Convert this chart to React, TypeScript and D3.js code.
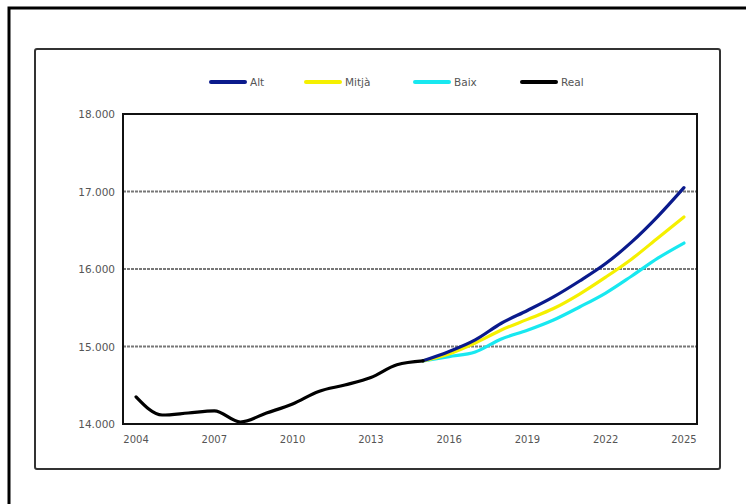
import React from 'react';
import * as d3 from 'd3';

const years = d3.range(2004, 2026).map(String);
const tickYears = ['2004', '2007', '2010', '2013', '2016', '2019', '2022', '2025'];
const yTicks = [14000, 15000, 16000, 17000, 18000];
const gridValues = [15000, 16000, 17000];

const projYears = ['2015', '2016', '2017', '2018', '2019', '2020', '2021', '2022', '2023', '2024', '2025'];
const realYears = ['2004', '2005', '2006', '2007', '2008', '2009', '2010', '2011', '2012', '2013', '2014', '2015'];

const realValues = [14350, 14116, 14142, 14170, 14026, 14142, 14258, 14420, 14503, 14600, 14765, 14815];
const altValues = [14815, 14935, 15085, 15300, 15465, 15640, 15845, 16070, 16350, 16680, 17050];
const mitjaValues = [14815, 14905, 15045, 15213, 15350, 15490, 15677, 15895, 16130, 16400, 16671];
const baixValues = [14815, 14870, 14929, 15097, 15210, 15342, 15510, 15690, 15910, 16140, 16335];

const seriesNames = ['Alt', 'Mitjà', 'Baix', 'Real'];
const seriesColors = ['#0a1a8c', '#f5f000', '#18e8f0', '#000000'];

const W = 746;
const H = 504;
const plot = { left: 123, right: 697, top: 114, bottom: 424 };
const fontFamily = 'Verdana, "DejaVu Sans", sans-serif';

const App: React.FC = () => {
  const x = d3.scaleBand<string>().domain(years).range([plot.left, plot.right]);
  const y = d3.scaleLinear().domain([14000, 18000]).range([plot.bottom, plot.top]);
  const cx = (yr: string) => (x(yr) ?? 0) + x.bandwidth() / 2;

  const line = d3.line<[string, number]>()
    .x(d => cx(d[0]))
    .y(d => y(d[1]))
    .curve(d3.curveMonotoneX);

  const series = [
    { name: 'Baix', pts: projYears.map((yr, i) => [yr, baixValues[i]] as [string, number]) },
    { name: 'Mitjà', pts: projYears.map((yr, i) => [yr, mitjaValues[i]] as [string, number]) },
    { name: 'Alt', pts: projYears.map((yr, i) => [yr, altValues[i]] as [string, number]) },
    { name: 'Real', pts: realYears.map((yr, i) => [yr, realValues[i]] as [string, number]) },
  ];
  const color = (n: string) => seriesColors[seriesNames.indexOf(n)];

  const legendX = [211, 306, 415, 522];

  return (
    <svg width={W} height={H} style={{ position: 'absolute', left: 0, top: 0, display: 'block' }}>
      <rect x={0} y={0} width={W} height={H} fill="#fff" />
      {/* outer frame */}
      <rect x={9} y={8} width={W + 10} height={H + 10} fill="none" stroke="#000" strokeWidth={3} />
      {/* inner frame */}
      <rect x={35} y={49} width={685} height={420} rx={2} fill="none" stroke="#333" strokeWidth={2} />

      {/* legend */}
      {seriesNames.map((n, i) => (
        <g key={n}>
          <line x1={legendX[i]} x2={legendX[i] + 34} y1={82} y2={82} stroke={seriesColors[i]} strokeWidth={4} strokeLinecap="round" />
          <text x={legendX[i] + 39} y={86} fontSize={10.5} fontFamily={fontFamily} fill="#555">{n}</text>
        </g>
      ))}

      {/* gridlines */}
      {gridValues.map(v => (
        <line key={v} x1={plot.left} x2={plot.right} y1={y(v)} y2={y(v)} stroke="#777" strokeWidth={2} strokeDasharray="3,1" />
      ))}

      {/* y labels */}
      {yTicks.map(v => (
        <text key={v} x={115} y={y(v) + 4} textAnchor="end" fontSize={10.5} fontFamily={fontFamily} fill="#555">
          {d3.format(',')(v).replace(',', '.')}
        </text>
      ))}

      {/* x labels */}
      {tickYears.map(t => (
        <text key={t} x={cx(t)} y={443} textAnchor="middle" fontSize={10} fontFamily={fontFamily} fill="#555">{t}</text>
      ))}

      {/* series */}
      {series.map(s => (
        <path key={s.name} d={line(s.pts) ?? ''} fill="none" stroke={color(s.name)} strokeWidth={3.2} strokeLinejoin="round" strokeLinecap="round" />
      ))}

      {/* plot border */}
      <rect x={plot.left} y={plot.top} width={plot.right - plot.left} height={plot.bottom - plot.top} fill="none" stroke="#111" strokeWidth={2} />
    </svg>
  );
};

export default App;
